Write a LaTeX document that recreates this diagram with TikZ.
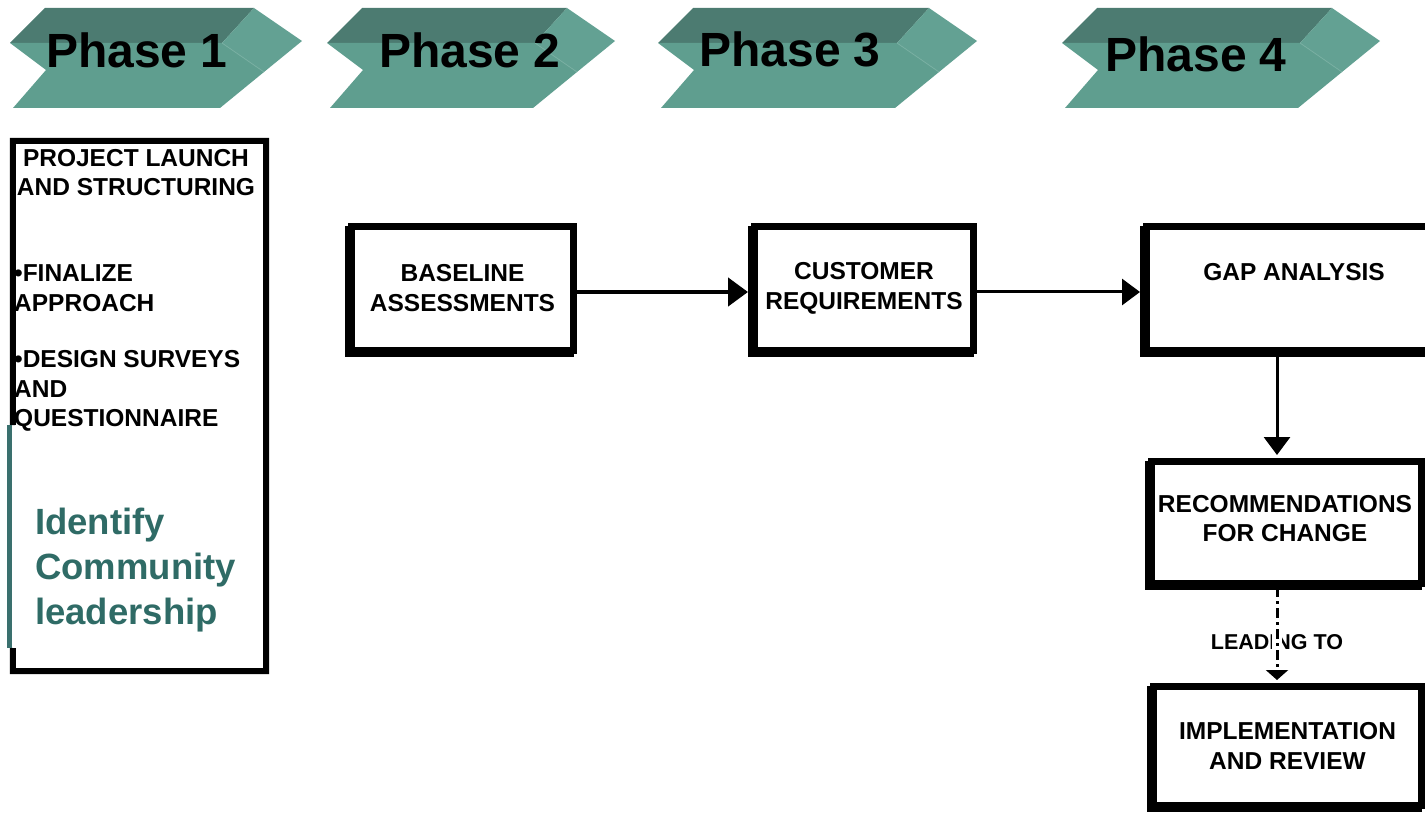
\documentclass[tikz,border=0pt]{standalone}
\usepackage{fontspec}
\setmainfont{Liberation Sans}
\usetikzlibrary{arrows.meta,shadows}
\definecolor{topc}{RGB}{76,123,113}
\definecolor{frontc}{RGB}{95,158,143}
\definecolor{sidec}{RGB}{99,161,147}
\definecolor{creasec}{RGB}{120,175,162}
\definecolor{tealtxt}{RGB}{47,107,102}
\definecolor{tealbar}{RGB}{58,112,110}
\newcommand{\phasechev}[6]{%
  \fill[topc] (#1,43) -- (#1+35,8) -- (#2-48,8) -- (#2-80,43) -- cycle;
  \fill[sidec] (#2-48,8) -- (#2,41) -- (#2-38,72) -- (#2-80,43) -- cycle;
  \fill[frontc] (#1,43) -- (#2-80,43) -- (#2-38,72) -- (#2-82,108) -- (#1+3,108) -- (#1+36,70) -- cycle;
  \draw[creasec, line width=0.8pt] (#2-80,43) -- (#2-38,72);
  \node[phtxt, anchor=base] (#3) at (#5,#6) {#4};
}
\tikzset{
  phtxt/.style={font=\fontsize{48}{52}\selectfont\bfseries, inner sep=0pt, text=black},
  bx/.style={draw=black, fill=white, line width=7pt, rectangle, inner sep=0pt,
    font=\fontsize{24.5}{30}\selectfont\bfseries, align=center,
    general shadow={shadow xshift=-3pt, shadow yshift=-3pt, fill=black, draw=black}},
  btxt/.style={font=\fontsize{24.5}{29}\selectfont\bfseries, inner sep=0pt, align=center},
  ltxt/.style={font=\fontsize{24.5}{29.5}\selectfont\bfseries, inner sep=0pt, align=left},
  teal/.style={font=\fontsize{36.5}{45}\selectfont\bfseries, inner sep=0pt, align=left, text=tealtxt},
  thick arrow/.style={line width=4.5pt, -{Triangle[length=20pt,width=28pt]}},
  thin arrow/.style={line width=3pt, -{Triangle[length=18pt,width=26pt]}},
}
\begin{document}
\begin{tikzpicture}[x=1pt,y=-1pt]
\useasboundingbox (0,0) rectangle (1425,813);
\clip (0,0) rectangle (1425,813);

% phase chevrons
\phasechev{10}{302}{ph1}{Phase 1}{137}{68}
\phasechev{327}{615}{ph2}{Phase 2}{470}{68}
\phasechev{658}{977}{ph3}{Phase 3}{790}{67}
\phasechev{1062}{1380}{ph4}{Phase 4}{1196}{72}

% left column box
\node[draw=none, minimum width=253pt, minimum height=530pt, inner sep=0pt] (lbox) at (139.5,406) {};
\draw[line width=6pt] (13,425) -- (lbox.north west) -- (lbox.north east) -- (lbox.south east) -- (lbox.south west) -- (13,648);
\draw[tealbar, line width=5pt] (9.5,425) -- (9.5,648);
\node[btxt] (launch) at (136,172.5) {PROJECT LAUNCH\\AND STRUCTURING};
\node[ltxt, anchor=west] (finalize) at (14,288) {\textbullet FINALIZE\\APPROACH};
\node[ltxt, anchor=west] (design) at (14,391) {\textbullet DESIGN SURVEYS\\AND\\QUESTIONNAIRE};
\node[teal, anchor=north west] (ident) at (35,507.5) {Identify\\Community\\leadership};

% process boxes
\node[bx, minimum width=222pt, minimum height=124pt] (base) at (462.5,288.5) {BASELINE\\ASSESSMENTS};
\node[bx, minimum width=219pt, minimum height=124pt] (cust) at (864,288.5) {CUSTOMER\\REQUIREMENTS};
\node[bx, minimum width=298.5pt, minimum height=124pt] (gap) at (1295.75,288.5) {};
\node[btxt] (gapt) at (1294,272) {GAP ANALYSIS};
\node[bx, minimum width=270pt, minimum height=122pt] (rec) at (1286.5,522.5) {};
\node[btxt] (rect) at (1285,519) {RECOMMENDATIONS\\FOR CHANGE};
\node[bx, minimum width=268pt, minimum height=119pt] (impl) at (1287.5,746) {IMPLEMENTATION\\AND REVIEW};

% connectors
\draw[thick arrow] ([yshift=-3.5pt]base.east) -- ([yshift=-3.5pt,xshift=-3pt]cust.west);
\draw[thin arrow] ([yshift=-3.5pt]cust.east) -- ([yshift=-3.5pt,xshift=-3pt]gap.west);
\draw[thin arrow] ([xshift=-18.75pt]gap.south) -- ([xshift=-9.5pt,yshift=3pt]rec.north);

\node[font=\fontsize{21.5}{24}\selectfont\bfseries, inner sep=0pt] (lead) at (1277,642) {LEADING TO};
\draw[white, line width=10pt] (1277,626) -- (1277,658);
\draw[line width=3pt, dash pattern=on 10pt off 4pt on 3pt off 4pt,
  -{Triangle[length=10pt,width=22pt]}] ([xshift=-9.5pt]rec.south) -- ([xshift=-10.5pt,yshift=3pt]impl.north);
\end{tikzpicture}
\end{document}
